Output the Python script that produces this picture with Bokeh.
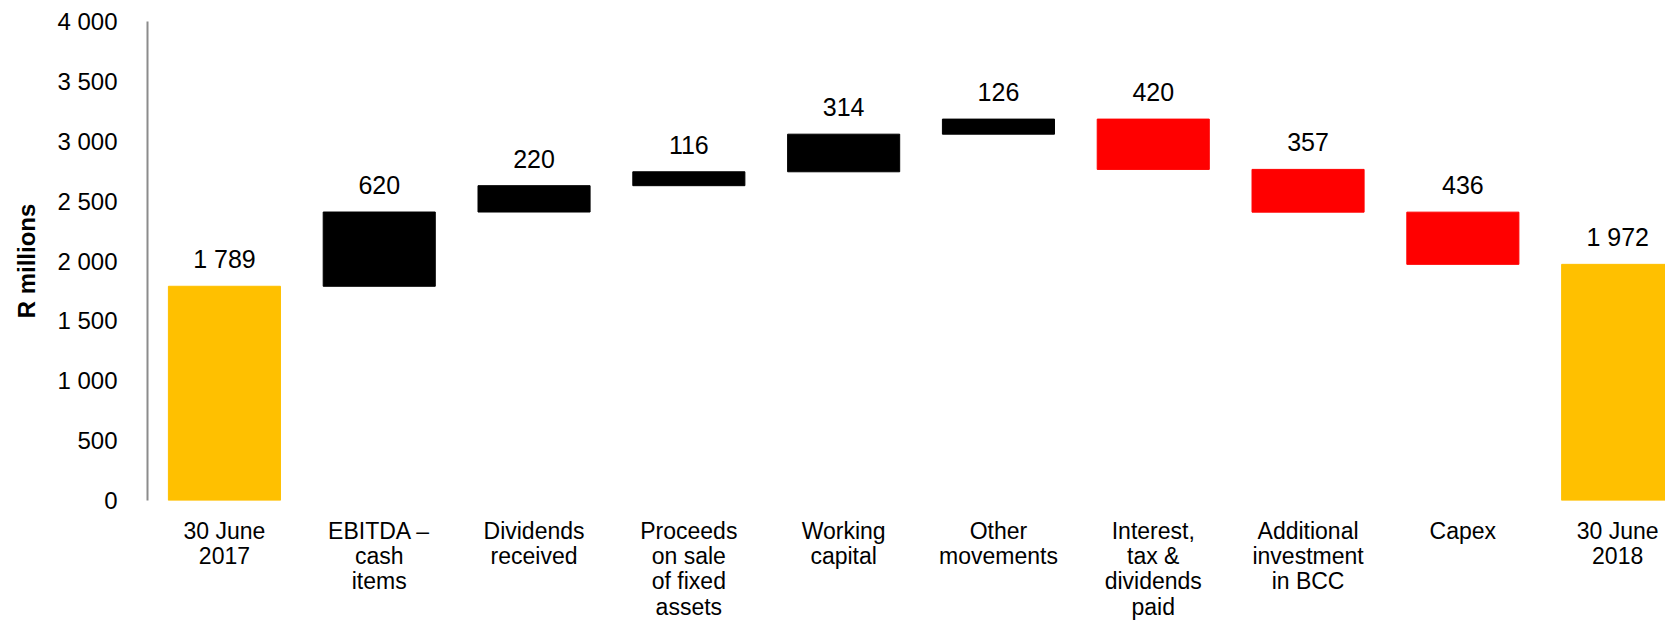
from bokeh.plotting import figure
from bokeh.models import ColumnDataSource, FixedTicker, Range1d, LabelSet
from bokeh.core.properties import value
from bokeh.embed import file_html
from bokeh.resources import INLINE

# ---- data ----
categories = ["30 June\n2017", "EBITDA \u2013\ncash\nitems", "Dividends\nreceived",
              "Proceeds\non sale\nof fixed\nassets", "Working\ncapital", "Other\nmovements",
              "Interest,\ntax &\ndividends\npaid", "Additional\ninvestment\nin BCC", "Capex",
              "30 June\n2018"]
kinds = ["total", "up", "up", "up", "up", "up", "down", "down", "down", "total"]
amounts = [1789, 620, 220, 116, 314, 126, 420, 357, 436, 1972]
y_ticks = [0, 500, 1000, 1500, 2000, 2500, 3000, 3500, 4000]
y_label = "R millions"

palette = {"total": "#FFC000", "up": "#000000", "down": "#FF0000"}

def fmt(v):
    return f"{v:,}".replace(",", " ")

# waterfall bottoms / tops
xs, bottoms, tops, colors, labels = [], [], [], [], []
running = 0
for i, (k, a) in enumerate(zip(kinds, amounts)):
    if k == "total":
        b, t = 0, a
        running = a
    elif k == "up":
        b, t = running, running + a
        running += a
    else:
        b, t = running - a, running
        running -= a
    xs.append(i)
    bottoms.append(b)
    tops.append(t)
    colors.append(palette[k])
    labels.append(fmt(a))

src = ColumnDataSource(dict(x=xs, bottom=bottoms, top=tops, color=colors, label=labels))

FONT = "Liberation Sans"

p = figure(width=1665, height=626, output_backend="svg", toolbar_location=None,
           x_range=Range1d(-0.497, 9.309), y_range=Range1d(0, 4000),
           min_border_left=147, min_border_right=0, min_border_top=21, min_border_bottom=126)
p.outline_line_color = None
p.xgrid.visible = False
p.ygrid.visible = False
p.background_fill_color = "white"
p.border_fill_color = "white"

p.vbar(x="x", bottom="bottom", top="top", width=0.724, color="color", source=src)

lbls = LabelSet(x="x", y="top", text="label", source=src, text_align="center",
                text_baseline="middle", y_offset=27, text_font=value(FONT),
                text_font_size=value("25px"), text_color=value("#000000"))
p.add_layout(lbls)

# y axis
p.yaxis.ticker = FixedTicker(ticks=y_ticks)
p.yaxis.major_label_overrides = {t: fmt(t) for t in y_ticks}
p.yaxis.major_label_text_font = FONT
p.yaxis.major_label_text_font_size = "24px"
p.yaxis.major_label_text_color = "#000000"
p.yaxis.major_tick_line_color = None
p.yaxis.minor_tick_line_color = None
p.yaxis.major_label_standoff = 24
p.yaxis.axis_line_color = "#8C8C8C"
p.yaxis.axis_line_width = 2
p.yaxis.axis_label = y_label
p.yaxis.axis_label_text_font = FONT
p.yaxis.axis_label_text_font_size = "24px"
p.yaxis.axis_label_text_font_style = "bold"
p.yaxis.axis_label_text_color = "#000000"
p.yaxis.axis_label_standoff = 14

# x axis
p.xaxis.ticker = FixedTicker(ticks=xs)
p.xaxis.major_label_overrides = {i: c for i, c in zip(xs, categories)}
p.xaxis.major_label_text_font = FONT
p.xaxis.major_label_text_font_size = "23px"
p.xaxis.major_label_text_line_height = 0.98
p.xaxis.major_label_text_color = "#000000"
p.xaxis.major_tick_line_color = None
p.xaxis.minor_tick_line_color = None
p.xaxis.axis_line_color = None
p.xaxis.major_label_standoff = 11

open("out.html", "w").write(file_html(p, INLINE))
